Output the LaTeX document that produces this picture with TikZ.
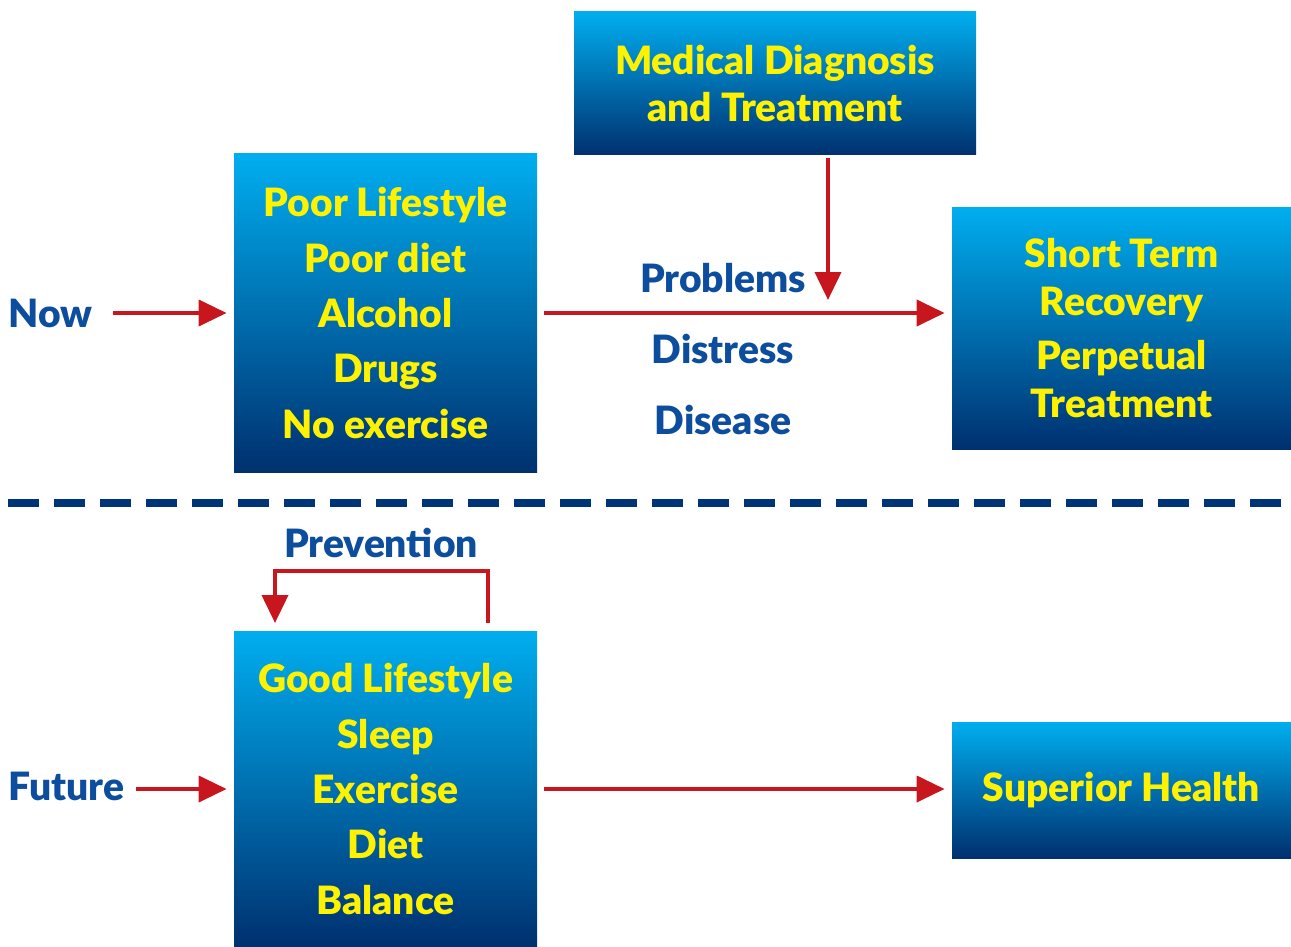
\documentclass[tikz,border=0pt]{standalone}
\usepackage{fontspec}
\IfFontExistsTF{Lato Black}{\setmainfont{Lato}[BoldFont={Lato Black}]}{\setmainfont{Lato}}
\usetikzlibrary{arrows.meta}
\definecolor{boxtop}{HTML}{00AEEF}
\definecolor{boxbot}{HTML}{00306F}
\definecolor{txtyel}{HTML}{FFF200}
\definecolor{lblue}{HTML}{0D4D9E}
\definecolor{arred}{HTML}{C8161E}
\definecolor{dashnavy}{HTML}{003478}
\begin{document}
\begin{tikzpicture}[x=0.5pt,y=-0.5pt,
  gbox/.style={rectangle, inner sep=0pt, top color=boxtop, bottom color=boxbot, draw=none,
    text=txtyel, align=center, font=\fontsize{19.5}{27.7}\selectfont\bfseries},
  lbl/.style={text=lblue, font=\fontsize{19.5}{20}\selectfont\bfseries, inner sep=0pt},
  arr/.style={draw=arred, line width=2pt, -{Triangle[length=14pt,width=13pt]}}
]
\useasboundingbox (0,0) rectangle (1291,947);
% boxes
\node[gbox, minimum width=151.5pt, minimum height=159pt] (poor) at (385.5,313)
  {Poor Lifestyle\\Poor diet\\Alcohol\\Drugs\\No exercise};
\node[gbox, minimum width=201pt, minimum height=71.5pt, font=\fontsize{19.5}{23.5}\selectfont\bfseries] (med) at (775,83.5)
  {Medical Diagnosis\\and Treatment};
\node[gbox, minimum width=169.5pt, minimum height=121pt, font=\fontsize{19.5}{24}\selectfont\bfseries] (short) at (1121.5,328)
  {Short Term\\Recovery\\[3pt]Perpetual\\Treatment};
\node[gbox, minimum width=151.5pt, minimum height=158pt] (good) at (385.5,789)
  {Good Lifestyle\\Sleep\\Exercise\\Diet\\Balance};
\node[gbox, minimum width=169.5pt, minimum height=68pt] (sup) at (1121.5,790)
  {Superior Health};
% labels
\node[lbl, anchor=west] (now) at (8,313) {Now};
\node[lbl, anchor=west] (fut) at (8,786) {Future};
\node[lbl] (prob) at (723,278) {Problems};
\node[lbl] (dist) at (723,349) {Distress};
\node[lbl] (dis) at (723,420) {Disease};
\node[lbl] (prev) at (381,543) {Prevention};
% dashed separator
\coordinate (dl) at (8,503);
\coordinate (dr) at (1291,503);
\draw[dashnavy, line width=4pt, dash pattern=on 15.5pt off 7.5pt] (dl) -- (dr);
% arrows
\coordinate (nowstart) at (113,313);
\coordinate (futstart) at (136,789);
\draw[arr] (nowstart) -- ([xshift=-3.5pt]poor.west|-nowstart);
\draw[arr] (futstart) -- ([xshift=-3.5pt]good.west|-futstart);
\draw[arr] ([xshift=3.5pt]poor.east|-nowstart) -- ([xshift=-3.5pt]short.west|-nowstart);
\draw[arr] ([xshift=3.5pt]good.east|-futstart) -- ([xshift=-3.5pt]sup.west|-futstart);
\coordinate (vend) at (828,300);
\draw[arr] ([yshift=-1.5pt]med.south-|vend) -- (vend);
\coordinate (pa) at (488,623);
\coordinate (pb) at (488,571);
\coordinate (pc) at (275,571);
\coordinate (pd) at (275,623);
\draw[arr] (pa) -- (pb) -- (pc) -- (pd);
\end{tikzpicture}
\end{document}
